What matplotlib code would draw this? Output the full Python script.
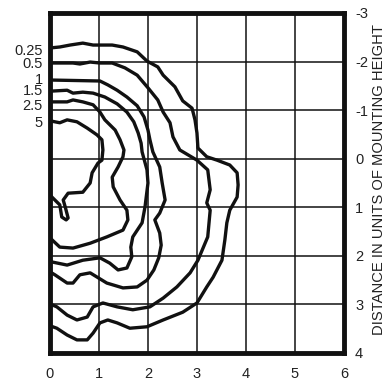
import matplotlib.pyplot as plt

plt.rcParams['font.family'] = ['Liberation Sans', 'DejaVu Sans']
plt.rcParams['axes.unicode_minus'] = False

# isolux curves, x and y in units of mounting height (y axis runs downward)
c025_x = [0, 0.20, 0.41, 0.67, 0.88, 1.27, 1.49, 1.78, 1.98, 2.20, 2.31, 2.55, 2.71, 2.90, 2.96, 3.00, 3.02,
          3.20, 3.41, 3.67, 3.82, 3.84, 3.82, 3.67, 3.61, 3.57, 3.51, 3.33, 3.20, 3.00, 2.71, 2.31, 1.98,
          1.63, 1.37, 1.18, 1.02, 0.88, 0.76, 0.55, 0.35, 0.14, 0]
c025_y = [-2.28, -2.30, -2.34, -2.38, -2.34, -2.34, -2.30, -2.20, -2.01, -1.89, -1.72, -1.48, -1.19, -1.04,
          -0.80, -0.53, -0.22, -0.04, 0.03, 0.13, 0.29, 0.54, 0.79, 1.06, 1.32, 1.67, 2.09, 2.44, 2.64,
          2.97, 3.16, 3.32, 3.46, 3.49, 3.38, 3.32, 3.38, 3.59, 3.73, 3.73, 3.63, 3.49, 3.44]

c05_x = [0, 0.47, 0.61, 0.82, 1.02, 1.27, 1.53, 1.78, 2.00, 2.20, 2.31, 2.45, 2.51, 2.65, 3.00, 3.22, 3.27,
         3.20, 3.27, 3.22, 3.02, 2.86, 2.59, 2.31, 2.04, 1.69, 1.37, 1.08, 0.88, 0.76, 0.55, 0.35, 0.14, 0]
c05_y = [-1.97, -1.97, -1.95, -1.99, -1.97, -1.97, -1.87, -1.72, -1.46, -1.21, -0.96, -0.74, -0.45, -0.18,
         0.03, 0.23, 0.64, 0.91, 1.06, 1.61, 2.09, 2.35, 2.64, 2.87, 3.05, 3.11, 3.05, 2.97, 3.05, 3.26,
         3.32, 3.22, 3.05, 2.99]

c1_x = [0, 1.02, 1.18, 1.37, 1.57, 1.78, 1.92, 2.00, 2.04, 2.10, 2.24, 2.29, 2.35, 2.24, 2.14, 2.24, 2.27,
        2.22, 2.12, 1.98, 1.78, 1.49, 1.16, 0.82, 0.61, 0.47, 0.35, 0.10, 0]
c1_y = [-1.62, -1.60, -1.52, -1.41, -1.27, -1.09, -0.86, -0.59, -0.39, -0.14, 0.17, 0.50, 0.85, 1.12, 1.26,
        1.53, 1.78, 2.04, 2.29, 2.50, 2.64, 2.66, 2.56, 2.35, 2.39, 2.56, 2.56, 2.39, 2.33]

c15_x = [0, 0.35, 0.47, 0.67, 0.88, 1.12, 1.37, 1.57, 1.71, 1.80, 1.86, 1.88, 1.98, 2.00, 1.94, 1.88, 1.69,
         1.65, 1.67, 1.57, 1.39, 1.22, 1.02, 0.67, 0.35, 0.06, 0]
c15_y = [-1.39, -1.41, -1.35, -1.37, -1.35, -1.27, -1.13, -0.96, -0.76, -0.53, -0.32, -0.14, 0.23, 0.50,
         0.99, 1.32, 1.61, 1.82, 2.02, 2.25, 2.29, 2.15, 2.04, 2.09, 2.19, 2.13, 2.11]

c25_x = [0, 0.35, 0.47, 0.67, 0.88, 1.02, 1.12, 1.33, 1.43, 1.51, 1.49, 1.39, 1.27, 1.29, 1.43, 1.57, 1.59,
         1.49, 1.16, 0.82, 0.47, 0.20, 0]
c25_y = [-1.17, -1.17, -1.21, -1.17, -1.11, -0.96, -0.80, -0.59, -0.39, -0.18, -0.04, 0.17, 0.38, 0.58,
         0.85, 1.06, 1.26, 1.47, 1.61, 1.74, 1.84, 1.82, 1.63]

c5_x = [0, 0.20, 0.35, 0.55, 0.76, 0.96, 1.06, 1.08, 1.06, 0.98, 0.86, 0.82, 0.67, 0.37, 0.27, 0.31, 0.37,
        0.33, 0.24, 0.20, 0.04, 0]
c5_y = [-0.78, -0.74, -0.80, -0.76, -0.63, -0.49, -0.39, -0.18, 0.03, 0.09, 0.29, 0.50, 0.69, 0.71, 0.85,
        0.99, 1.22, 1.26, 1.20, 0.95, 0.79, 0.75]

curve_labels = ['0.25', '0.5', '1', '1.5', '2.5', '5']
label_y = [-2.22, -1.95, -1.62, -1.39, -1.08, -0.74]

curves = [(c025_x, c025_y), (c05_x, c05_y), (c1_x, c1_y), (c15_x, c15_y), (c25_x, c25_y), (c5_x, c5_y)]

x_ticks = [0, 1, 2, 3, 4, 5, 6]
y_ticks = [-3, -2, -1, 0, 1, 2, 3, 4]

fig = plt.figure(figsize=(3.86, 3.81), dpi=100)
ax = fig.add_axes([0.1295, 0.0735, 0.7615, 0.8924])

for cx, cy in curves:
    ax.plot(cx, cy, color='#111111', lw=2.4, solid_capstyle='round', solid_joinstyle='round', zorder=3)

for lab, ly in zip(curve_labels, label_y):
    ax.text(-0.15, ly, lab, ha='right', va='center', fontsize=10.5, color='#222222', clip_on=False)

ax.set_xlim(0, 6)
ax.set_ylim(4, -3)
ax.set_xticks(x_ticks)
ax.set_yticks(y_ticks)
ax.grid(True, color='#111111', lw=1.1)
ax.set_axisbelow(True)
ax.yaxis.tick_right()
ax.yaxis.set_label_position('right')
ax.tick_params(axis='x', length=0, pad=10, labelsize=10.5, colors='#222222')
ax.tick_params(axis='y', length=0, pad=8, labelsize=10.5, colors='#222222')
ax.set_ylabel('DISTANCE IN UNITS OF MOUNTING HEIGHT', fontsize=10.6, color='#222222')
ax.yaxis.set_label_coords(1.094, 0.51)
for s in ax.spines.values():
    s.set_linewidth(3.5)
    s.set_color('#111111')

fig.savefig('out.png', dpi=100)
